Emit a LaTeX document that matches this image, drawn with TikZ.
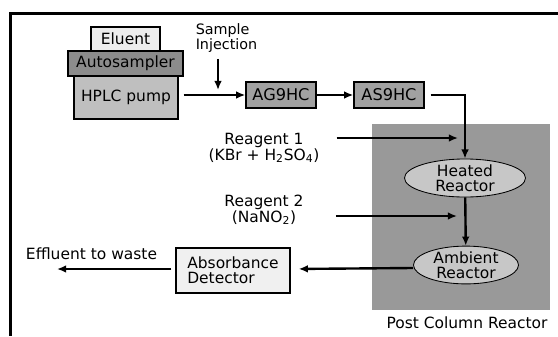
\documentclass[tikz,border=0pt]{standalone}
\usepackage{fontspec}
\setmainfont{DejaVu Sans}
\usetikzlibrary{shapes,arrows.meta}

\tikzset{
  unitbox/.style = {draw, line width=1pt, inner sep=0pt},
  reactor/.style = {ellipse, draw, line width=0.6pt, fill=black!22, inner sep=0pt,
                    align=center, font=\fontsize{11}{10.5}\selectfont},
  lbl/.style = {inner sep=0pt, align=center, font=\fontsize{11}{11.2}\selectfont},
  flow/.style = {->, line width=1.7pt}
}

\begin{document}
\begin{tikzpicture}[x=0.025cm, y=-0.025cm, >={Latex[length=6.5pt,width=5.5pt]},
    font=\fontsize{11}{12}\selectfont]
          \useasboundingbox (0,0) rectangle (558,336);
          % frame
          \draw [line width=2.2pt] (558,13.5) -- (10.5,13.5) -- (10.5,336);
          % post column reactor
          \node (pcr) at (461,217) [fill=black!40, minimum width=4.45cm, minimum height=4.65cm] {};
          \node (pcrlabel) at (467,323) [lbl] {Post Column Reactor};
          % pump stack
          \node (eluent) at (125.5,39) [unitbox, fill=black!7, minimum width=1.725cm, minimum height=0.6cm] {Eluent};
          \node (auto) at (125.5,63.5) [unitbox, fill=black!45, minimum width=2.875cm, minimum height=0.625cm] {Autosampler};
          \node (pump) at (126,97.5) [unitbox, fill=black!25, minimum width=2.6cm, minimum height=1.075cm] {HPLC pump};
          \node (inj) at (226.5,38) [inner sep=0pt, align=left, font=\fontsize{10.2}{8.8}\selectfont] {Sample\\Injection};
          \coordinate (injpt) at (218,90);
          % columns
          \node (ag) at (281,95) [unitbox, fill=black!37, minimum width=1.75cm, minimum height=0.65cm, font=\fontsize{11.5}{12}\selectfont] {AG9HC};
          \node (as) at (389,95) [unitbox, fill=black!37, minimum width=1.75cm, minimum height=0.65cm, font=\fontsize{11.5}{12}\selectfont] {AS9HC};
          % reactors
          \node (heated) at (465,178) [reactor, minimum width=3.025cm, minimum height=0.95cm] {Heated\\Reactor};
          \node (ambient) at (466,265) [reactor, minimum width=2.625cm, minimum height=0.9cm] {Ambient\\Reactor};
          % reagents
          \node (r1) at (264,148) [lbl] {Reagent 1\\(KBr + H\textsubscript{2}SO\textsubscript{4})};
          \node (r2) at (264,210) [lbl] {Reagent 2\\(NaNO\textsubscript{2})};
          \coordinate (r1b) at (458,138);
          \coordinate (r2b) at (457,216);
          % detector
          \node (det) at (233,270.5) [unitbox, fill=black!6, minimum width=2.85cm, minimum height=1.125cm,
                 align=left, font=\fontsize{11}{10.5}\selectfont] {Absorbance\\Detector};
          \node (waste) at (91.5,254) [lbl] {Effluent to waste};
          \coordinate (outpt) at (57,269);
          % flow
          \draw [flow] ([xshift=0.125cm]pump.east |- ag.west) -- (ag.west);
          \draw [flow, shorten <=0.15cm] (inj.south -| injpt) -- (injpt);
          \draw [flow] (ag) -- (as);
          \draw [flow] ([xshift=0.15cm]as.east) -| (heated.north);
          \draw [flow] ([xshift=0.425cm]r1.east |- r1b) -- (r1b);
          \draw [flow] ([xshift=0.8cm]r2.east |- r2b) -- (r2b);
          \draw [flow] (heated) -- (ambient);
          \draw [flow, shorten >=0.2cm] ([yshift=-0.075cm]ambient.west) -- (det.east |- outpt);
          \draw [flow] ([xshift=-0.1cm]det.west |- outpt) -- (outpt);
  \end{tikzpicture}
\end{document}
